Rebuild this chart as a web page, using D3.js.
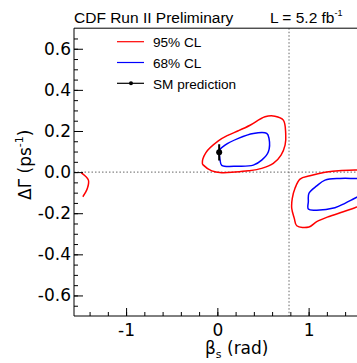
<!DOCTYPE html>
<html>
<head>
<meta charset="utf-8">
<script src="https://cdn.jsdelivr.net/npm/d3@7"></script>
<style>
  body { margin: 0; background: #fff; }
  text { fill: #000; }
</style>
</head>
<body>
<div id="chart"></div>
<script>
// contour points [beta_s (rad), dGamma (ps^-1)]
const cl95Main = [[-0.164, 0.042], [-0.127, 0.094], [0.011, 0.152], [0.120, 0.180], [0.230, 0.201],
    [0.358, 0.228], [0.522, 0.269], [0.631, 0.272], [0.723, 0.253], [0.749, 0.188], [0.742, 0.131],
    [0.698, 0.083], [0.613, 0.042], [0.486, 0.018], [0.340, 0.006], [0.194, 0.000], [0.048, -0.003],
    [-0.061, 0.006], [-0.153, 0.034]];
const cl68Main = [[0.011, 0.099], [0.084, 0.131], [0.230, 0.164], [0.394, 0.188], [0.541, 0.188],
    [0.566, 0.164], [0.559, 0.099], [0.486, 0.058], [0.394, 0.034], [0.230, 0.029], [0.048, 0.033],
    [0.030, 0.058], [0.019, 0.091]];
const cl95Right = [[1.60, 0.014], [1.508, 0.010], [1.363, 0.008], [1.180, -0.001], [1.015, -0.018],
    [0.906, -0.034], [0.851, -0.079], [0.821, -0.128], [0.815, -0.176], [0.843, -0.225], [0.870, -0.261],
    [1.004, -0.267], [1.089, -0.241], [1.216, -0.217], [1.380, -0.193], [1.508, -0.173], [1.60, -0.162]];
const cl68Right = [[1.60, -0.031], [1.508, -0.031], [1.344, -0.031], [1.180, -0.039], [1.089, -0.067],
    [1.004, -0.103], [0.997, -0.144], [0.997, -0.180], [1.089, -0.185], [1.288, -0.173], [1.398, -0.152],
    [1.490, -0.131], [1.60, -0.105]];
const cl95Left = [[-1.49, -0.004], [-1.413, -0.039], [-1.424, -0.079], [-1.474, -0.120]];

const smPoint = { beta: 0.02, dg: 0.096, err: 0.039 };
const xTicks = [-1, 0, 1];
const yTicks = [-0.6, -0.4, -0.2, 0.0, 0.2, 0.4, 0.6];
const legendItems = [
    { label: "95% CL", color: "#ff0000" },
    { label: "68% CL", color: "#0000ff" },
    { label: "SM prediction", color: "#000" }
];

const W = 357, H = 363;
const padL = 74, padT = 28.2, padB = 316;

const svg = d3.select("#chart").append("svg")
    .attr("width", W)
    .attr("height", H);

const x = d3.scaleLinear().domain([-Math.PI / 2, Math.PI / 2]).range([padL, 360.7]);
const y = d3.scaleLinear().domain([-0.7, 0.7]).range([padB, padT]);

svg.append("clipPath").attr("id", "clip")
    .append("rect").attr("x", padL).attr("y", padT)
    .attr("width", W - padL).attr("height", padB - padT);

const plot = svg.append("g").attr("clip-path", "url(#clip)");

// dotted reference lines
plot.append("line")
    .attr("x1", padL).attr("x2", W)
    .attr("y1", y(0)).attr("y2", y(0))
    .attr("stroke", "#666").attr("stroke-dasharray", "1.5,2");
plot.append("line")
    .attr("x1", x(Math.PI / 4)).attr("x2", x(Math.PI / 4))
    .attr("y1", padT).attr("y2", padB)
    .attr("stroke", "#666").attr("stroke-dasharray", "1.5,2");

const closed = d3.line().x(d => x(d[0])).y(d => y(d[1])).curve(d3.curveCatmullRomClosed.alpha(0.5));
const open = d3.line().x(d => x(d[0])).y(d => y(d[1])).curve(d3.curveCatmullRom.alpha(0.5));

plot.append("path").attr("d", closed(cl95Main)).attr("fill", "none").attr("stroke", "#f00").attr("stroke-width", 1.5);
plot.append("path").attr("d", closed(cl68Main)).attr("fill", "none").attr("stroke", "#00f").attr("stroke-width", 1.5);
plot.append("path").attr("d", open(cl95Right)).attr("fill", "none").attr("stroke", "#f00").attr("stroke-width", 1.5);
plot.append("path").attr("d", open(cl68Right)).attr("fill", "none").attr("stroke", "#00f").attr("stroke-width", 1.5);
plot.append("path").attr("d", open(cl95Left)).attr("fill", "none").attr("stroke", "#f00").attr("stroke-width", 1.5);

// SM prediction
plot.append("line")
    .attr("x1", x(smPoint.beta)).attr("x2", x(smPoint.beta))
    .attr("y1", y(smPoint.dg - smPoint.err)).attr("y2", y(smPoint.dg + smPoint.err))
    .attr("stroke", "#000").attr("stroke-width", 2);
plot.append("circle")
    .attr("cx", x(smPoint.beta)).attr("cy", y(smPoint.dg)).attr("r", 3)
    .attr("fill", "#000");

// frame
svg.append("path")
    .attr("d", `M${W},${padT}H${padL}V${padB}H${W}`)
    .attr("fill", "none").attr("stroke", "#000").attr("stroke-width", 1);

// axes
const yAxis = svg.append("g").attr("transform", `translate(${padL},0)`)
    .call(d3.axisLeft(y).tickValues(yTicks).tickSize(-9).tickPadding(3)
        .tickFormat(d3.format(".1f")));
svg.append("g").attr("transform", `translate(${padL},0)`)
    .call(d3.axisLeft(y).tickValues(d3.range(-0.65, 0.7, 0.05)).tickSize(-4).tickFormat(""));

const xAxis = svg.append("g").attr("transform", `translate(0,${padB})`)
    .call(d3.axisBottom(x).tickValues(xTicks).tickSize(-8).tickPadding(8)
        .tickFormat(d3.format("d")));
svg.append("g").attr("transform", `translate(0,${padB})`)
    .call(d3.axisBottom(x).tickValues(d3.range(-1.4, 1.6, 0.2)).tickSize(-4).tickFormat(""));

svg.selectAll(".domain").remove();
svg.selectAll(".tick line").attr("stroke", "#000");
yAxis.selectAll("text").attr("font-family", "DejaVu Sans").attr("font-size", 17)
    .text(d => d3.format(".1f")(d).replace("−", "-"));
xAxis.selectAll("text").attr("font-family", "DejaVu Sans").attr("font-size", 17)
    .text(d => d3.format("d")(d).replace("−", "-"));

// titles
svg.append("text").attr("x", 74).attr("y", 23)
    .attr("font-family", "Liberation Sans, Arial").attr("font-size", 15.5)
    .text("CDF Run II Preliminary");
const lum = svg.append("text").attr("x", 270).attr("y", 23)
    .attr("font-family", "Liberation Sans, Arial").attr("font-size", 15.5);
lum.append("tspan").text("L = 5.2 fb");
lum.append("tspan").attr("font-size", 9).attr("dy", -7).text("-1");

const xl = svg.append("text").attr("x", 205).attr("y", 354)
    .attr("font-family", "DejaVu Sans").attr("font-size", 17);
xl.append("tspan").text("β");
xl.append("tspan").attr("font-size", 11).attr("dy", 4).text("s");
xl.append("tspan").attr("dy", -4).text(" (rad)");

const yl = svg.append("text").attr("transform", "translate(31,200) rotate(-90)")
    .attr("font-family", "DejaVu Sans").attr("font-size", 17);
yl.append("tspan").text("ΔΓ (ps");
yl.append("tspan").attr("font-size", 11).attr("dy", -8).text("-1");
yl.append("tspan").attr("dy", 8).text(")");

// legend
const legend = svg.append("g");
legendItems.forEach((item, i) => {
    const ly = 41.7 + i * 20.8;
    legend.append("line")
        .attr("x1", 117).attr("x2", 144).attr("y1", ly).attr("y2", ly)
        .attr("stroke", item.color).attr("stroke-width", 1.2);
    if (i === 2) {
        legend.append("circle").attr("cx", 131).attr("cy", ly).attr("r", 2).attr("fill", "#000");
    }
    legend.append("text")
        .attr("x", 153).attr("y", ly + 5.5)
        .attr("font-family", "Liberation Sans, Arial").attr("font-size", 13.6)
        .text(item.label);
});
</script>
</body>
</html>
